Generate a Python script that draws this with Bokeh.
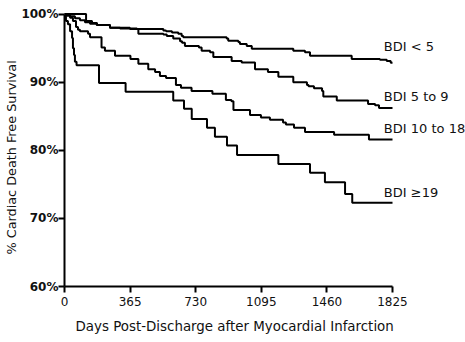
from bokeh.plotting import figure
from bokeh.models import Range1d, FixedTicker, Label, Title
from bokeh.embed import file_html
from bokeh.resources import INLINE

# ---- data ----
groups = ["BDI < 5", "BDI 5 to 9", "BDI 10 to 18", "BDI \u226519"]

days_lt5 = [0, 120, 153, 181, 253, 364, 403, 550, 565, 598, 633, 652, 661, 902, 911, 967, 976,
            1014, 1042, 1273, 1338, 1366, 1598, 1755, 1793, 1815, 1825]
surv_lt5 = [100, 99.0, 98.7, 98.4, 98.0, 97.9, 97.8, 97.6, 97.5, 97.3, 97.1, 96.8, 96.6, 96.4, 96.1,
            95.9, 95.6, 95.3, 94.9, 94.6, 94.4, 93.9, 93.4, 93.3, 93.1, 92.85, 92.85]

days_5_9 = [0, 31, 58, 86, 114, 142, 179, 253, 309, 364, 411, 550, 569, 605, 643, 654, 670, 748,
            763, 810, 828, 930, 986, 1060, 1132, 1190, 1273, 1349, 1358, 1388, 1433, 1440, 1515,
            1689, 1728, 1750, 1825]
surv_5_9 = [100, 99.7, 99.4, 99.1, 98.8, 98.6, 98.4, 98.0, 97.9, 97.8, 97.1, 97.0, 96.8, 96.4,
            96.0, 95.8, 95.3, 95.1, 94.6, 94.4, 93.7, 93.1, 92.9, 91.9, 91.5, 90.8, 90.0, 89.6,
            89.4, 89.1, 88.7, 87.9, 87.3, 86.8, 86.6, 86.2, 86.2]

days_10_18 = [0, 14, 31, 47, 64, 75, 86, 131, 142, 206, 225, 281, 367, 411, 466, 504, 531, 565,
              620, 648, 707, 823, 898, 929, 940, 1032, 1093, 1143, 1216, 1232, 1277, 1338, 1500,
              1694, 1825]
surv_10_18 = [100, 99.75, 99.46, 99.0, 98.1, 97.7, 97.5, 97.1, 96.6, 95.1, 94.6, 93.9, 93.4, 92.7,
              91.9, 91.5, 90.9, 90.6, 89.6, 89.2, 88.7, 88.3, 87.4, 87.2, 85.9, 85.2, 84.8, 84.5,
              84.1, 83.8, 83.3, 82.7, 82.3, 81.6, 81.6]

days_ge19 = [0, 8, 19, 31, 42, 47, 53, 58, 67, 192, 340, 605, 665, 708, 793, 837, 904, 960, 1190,
             1366, 1449, 1561, 1601, 1825]
surv_ge19 = [100, 99.0, 98.5, 97.5, 96.5, 95.0, 94.0, 93.0, 92.5, 89.9, 88.6, 87.3, 86.1, 84.6,
             83.3, 82.0, 80.7, 79.3, 78.0, 76.7, 75.3, 73.6, 72.3, 72.3]

x_ticks = [0, 365, 730, 1095, 1460, 1825]
y_ticks = [60, 70, 80, 90, 100]
y_tick_labels = ["60%", "70%", "80%", "90%", "100%"]
x_title = "Days Post-Discharge after Myocardial Infarction"
y_title = "% Cardiac Death Free Survival"

series = [(days_lt5, surv_lt5), (days_5_9, surv_5_9), (days_10_18, surv_10_18), (days_ge19, surv_ge19)]

# label placement (x in days, y in %)
label_pos = [(1777, 95.2), (1777, 87.85), (1777, 83.25), (1777, 73.8)]

FONT = "DejaVu Sans"
W, H = 465, 342
LEFT, TOP, BOTTOM = 64, 8, 56
frame_w = W - LEFT
x_end = 1825 * frame_w / 328.0
frame_h = H - TOP - BOTTOM
y_top = 60 + 40 * frame_h / (285.7 - 13.3)

p = figure(width=W, height=H, output_backend="svg", toolbar_location=None,
           x_range=Range1d(0, x_end), y_range=Range1d(60, y_top),
           min_border_left=LEFT, min_border_right=0, min_border_top=TOP, min_border_bottom=BOTTOM)
p.outline_line_color = None
p.xgrid.visible = False
p.ygrid.visible = False
p.background_fill_color = "white"
p.border_fill_color = "white"

for xs, ys in series:
    p.step(xs, ys, mode="after", line_color="black", line_width=2)

for (lx, ly), name in zip(label_pos, groups):
    p.add_layout(Label(x=lx, y=ly, text=name, text_font=FONT, text_font_size="13px",
                       text_color="#111111", text_baseline="middle", text_align="left"))

xa = p.xaxis[0]
xa.ticker = FixedTicker(ticks=x_ticks)
xa.bounds = (0, 1825)
xa.axis_line_width = 2
xa.major_tick_line_width = 2
xa.major_tick_out = 6
xa.major_tick_in = 0
xa.minor_tick_out = 0
xa.minor_tick_in = 0
xa.major_label_text_font = FONT
xa.major_label_text_font_size = "12px"
xa.major_label_text_color = "#111111"
xa.major_label_standoff = 4

ya = p.yaxis[0]
ya.ticker = FixedTicker(ticks=y_ticks)
ya.bounds = (60, 100)
ya.major_label_overrides = {t: s for t, s in zip(y_ticks, y_tick_labels)}
ya.axis_line_width = 2
ya.major_tick_line_width = 2
ya.major_tick_out = 6
ya.major_tick_in = 0
ya.minor_tick_out = 0
ya.minor_tick_in = 0
ya.major_label_text_font = FONT
ya.major_label_text_font_size = "12px"
ya.major_label_text_font_style = "bold"
ya.major_label_text_color = "#111111"
ya.major_label_standoff = 0

# axis titles as side-panel titles (x title sits under the drawn axis span)
p.add_layout(Title(text=x_title, align="left", offset=11, standoff=17,
                   text_font=FONT, text_font_size="13.4px", text_font_style="normal",
                   text_color="#111111"), "below")
p.add_layout(Title(text=y_title, align="left", offset=32, standoff=0,
                   text_font=FONT, text_font_size="12.8px", text_font_style="normal",
                   text_color="#111111"), "left")

open("out.html", "w").write(file_html(p, INLINE))
